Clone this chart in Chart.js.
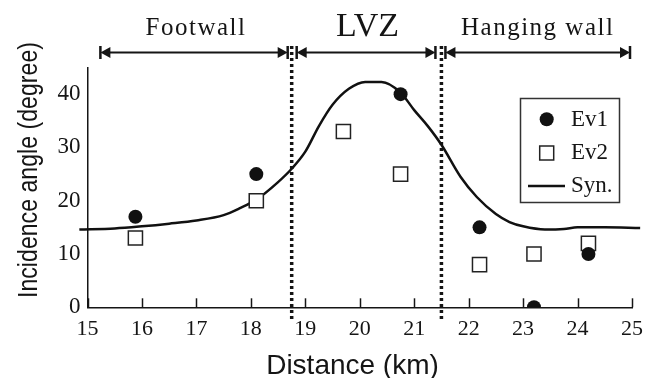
<!DOCTYPE html>
<html>
<head>
<meta charset="utf-8">
<script src="https://cdn.jsdelivr.net/npm/chart.js@4"></script>
<style>
  body { margin: 0; background: #fff; }
  canvas { display: block; }
</style>
</head>
<body>
<canvas id="incidence_chart" width="657" height="378"></canvas>
<script>
// observed incidence angles
const ev1_dist = [15.88, 18.1, 20.75, 22.2, 23.2, 24.2];
const ev1_angle = [17, 25, 40, 15, 0, 10];
const ev2_dist = [15.88, 18.1, 19.7, 20.75, 22.2, 23.2, 24.2];
const ev2_angle = [13, 20, 33, 25, 8, 10, 12];

// synthetic curve
const syn_dist = [14.85, 15.5, 16.0, 16.5, 17.0, 17.5, 17.8, 18.1, 18.5, 18.75, 19.0, 19.25, 19.5, 19.8, 20.1, 20.4, 20.75, 21.0, 21.25, 21.5, 21.85, 22.15, 22.5, 22.75, 23.0, 23.4, 23.75, 24.0, 24.5, 25.15];
const syn_angle = [14.6, 14.8, 15.2, 15.7, 16.3, 17.3, 18.6, 20.2, 23.5, 26, 29.2, 34, 38, 41, 42.3, 42.3, 40.3, 37, 34, 30.5, 24.5, 20.7, 17.5, 16, 15.2, 14.6, 14.7, 15, 15, 14.9];

// zones above the plot
const zone_names = ['Footwall', 'LVZ', 'Hanging wall'];
const zone_edges = [15.2, 18.75, 21.5, 25];
const boundary_dist = [18.75, 21.5];

const x_ticks = [15, 16, 17, 18, 19, 20, 21, 22, 23, 24, 25];
const y_ticks = [0, 10, 20, 30, 40];

function to_points(xs, ys) {
    return xs.map((v, i) => ({x: v, y: ys[i]}));
}

const ink = '#151515';

function arrow_head(ctx, tipX, y, dir) {
    // dir = -1 points left, 1 points right
    ctx.beginPath();
    ctx.moveTo(tipX, y);
    ctx.lineTo(tipX - dir * 10, y - 5.5);
    ctx.lineTo(tipX - dir * 10, y + 5.5);
    ctx.closePath();
    ctx.fill();
    ctx.fillRect(tipX - 1.25, y - 6.5, 2.5, 13);
}

const extras = {
    id: 'extras',
    beforeDatasetsDraw(chart) {
        const {ctx, scales: {x, y}} = chart;
        const y0 = y.getPixelForValue(0);
        ctx.save();
        // tick marks pointing inward
        ctx.strokeStyle = ink;
        ctx.lineWidth = 1.5;
        x_ticks.forEach(v => {
            const px = Math.round(x.getPixelForValue(v)) + 0.5;
            ctx.beginPath();
            ctx.moveTo(px, y0);
            ctx.lineTo(px, y0 - 9);
            ctx.stroke();
        });
        // dotted zone boundaries
        ctx.lineWidth = 3.5;
        ctx.setLineDash([3, 3]);
        boundary_dist.forEach(v => {
            const px = x.getPixelForValue(v);
            ctx.beginPath();
            ctx.moveTo(px, 46);
            ctx.lineTo(px, 320);
            ctx.stroke();
        });
        ctx.restore();
    },
    afterDraw(chart) {
        const {ctx, scales: {x, y}} = chart;
        ctx.save();
        ctx.fillStyle = ink;
        ctx.strokeStyle = ink;

        // arrows + zone labels
        const ay = 52.5;
        const insets = [[2, -4], [5, -6], [4, -2]];
        for (let i = 0; i < zone_names.length; i++) {
            const a = x.getPixelForValue(zone_edges[i]) + insets[i][0];
            const b = x.getPixelForValue(zone_edges[i + 1]) + insets[i][1];
            ctx.lineWidth = 2.2;
            ctx.beginPath();
            ctx.moveTo(a + 4, ay);
            ctx.lineTo(b - 4, ay);
            ctx.stroke();
            arrow_head(ctx, a, ay, -1);
            arrow_head(ctx, b, ay, 1);

            const cx = (x.getPixelForValue(zone_edges[i]) + x.getPixelForValue(zone_edges[i + 1])) / 2;
            ctx.textAlign = 'center';
            ctx.textBaseline = 'alphabetic';
            if (zone_names[i] === 'LVZ') {
                ctx.letterSpacing = '0px';
                ctx.font = '34px "Liberation Serif"';
                ctx.fillText(zone_names[i], cx + 1, 36);
            } else {
                ctx.letterSpacing = '1.5px';
                ctx.font = '25px "Liberation Serif"';
                ctx.fillText(zone_names[i], cx + 1, 35);
            }
        }
        ctx.letterSpacing = '0px';

        // axis titles
        ctx.font = '28px "Liberation Sans"';
        ctx.textAlign = 'center';
        ctx.textBaseline = 'alphabetic';
        ctx.fillText('Distance (km)', 352.5, 374);

        const ytitle = 'Incidence angle (degree)';
        const w = ctx.measureText(ytitle).width;
        ctx.save();
        ctx.translate(37, 170);
        ctx.rotate(-Math.PI / 2);
        ctx.scale(256 / w, 1);
        ctx.fillText(ytitle, 0, 0);
        ctx.restore();

        // legend box
        ctx.lineWidth = 1.5;
        ctx.strokeStyle = '#333';
        ctx.strokeRect(520.5, 98.5, 99, 104);
        const lx = 546.7;
        const ds = chart.data.datasets;
        ctx.fillStyle = ds[0].backgroundColor;
        ctx.beginPath();
        ctx.arc(lx, 119.3, 7, 0, Math.PI * 2);
        ctx.fill();
        ctx.fillStyle = '#fff';
        ctx.strokeStyle = ds[1].borderColor;
        ctx.lineWidth = ds[1].borderWidth;
        ctx.fillRect(lx - 7, 153 - 7, 14, 14);
        ctx.strokeRect(lx - 7, 153 - 7, 14, 14);
        ctx.strokeStyle = ds[2].borderColor;
        ctx.lineWidth = ds[2].borderWidth;
        ctx.beginPath();
        ctx.moveTo(528, 186);
        ctx.lineTo(565, 186);
        ctx.stroke();
        ctx.fillStyle = ink;
        ctx.font = '23px "Liberation Serif"';
        ctx.textAlign = 'left';
        ctx.textBaseline = 'middle';
        ds.forEach((d, i) => ctx.fillText(d.label, 571, [119.5, 153, 186][i]));
        ctx.restore();
    }
};

function add_chart() {
    const ctx = document.getElementById('incidence_chart');
    new Chart(ctx, {
        type: 'scatter',
        data: {
            datasets: [{
                label: 'Ev1',
                data: to_points(ev1_dist, ev1_angle),
                pointStyle: 'circle',
                pointRadius: 7,
                backgroundColor: '#111',
                borderColor: '#111',
                borderWidth: 0
            }, {
                label: 'Ev2',
                data: to_points(ev2_dist, ev2_angle),
                pointStyle: 'rect',
                pointRadius: 10,
                backgroundColor: '#fff',
                borderColor: '#222',
                borderWidth: 1.5
            }, {
                label: 'Syn.',
                type: 'line',
                data: to_points(syn_dist, syn_angle),
                borderColor: '#111',
                borderWidth: 2.5,
                pointRadius: 0,
                cubicInterpolationMode: 'monotone',
                clip: false
            }]
        },
        options: {
            responsive: false,
            devicePixelRatio: 1,
            animation: false,
            layout: {padding: {top: 67.5, right: 25, left: 0, bottom: 0}},
            plugins: {legend: {display: false}, tooltip: {enabled: false}},
            scales: {
                x: {
                    type: 'linear',
                    min: 15,
                    max: 25,
                    afterFit: s => { s.height = 70.7; },
                    afterBuildTicks: s => { s.ticks = x_ticks.map(v => ({value: v})); },
                    grid: {display: false, drawTicks: false},
                    border: {display: true, color: ink, width: 1.5},
                    ticks: {
                        padding: 9,
                        color: ink,
                        font: {family: 'Liberation Serif', size: 22},
                        maxRotation: 0
                    }
                },
                y: {
                    min: 0,
                    max: 45,
                    afterFit: s => { s.width = 87.5; },
                    afterBuildTicks: s => { s.ticks = y_ticks.map(v => ({value: v})); },
                    grid: {display: false, drawTicks: false},
                    border: {display: true, color: ink, width: 1.5},
                    ticks: {
                        padding: 7,
                        color: ink,
                        font: {family: 'Liberation Serif', size: 23}
                    }
                }
            }
        },
        plugins: [extras]
    });
}

add_chart();
</script>
</body>
</html>
